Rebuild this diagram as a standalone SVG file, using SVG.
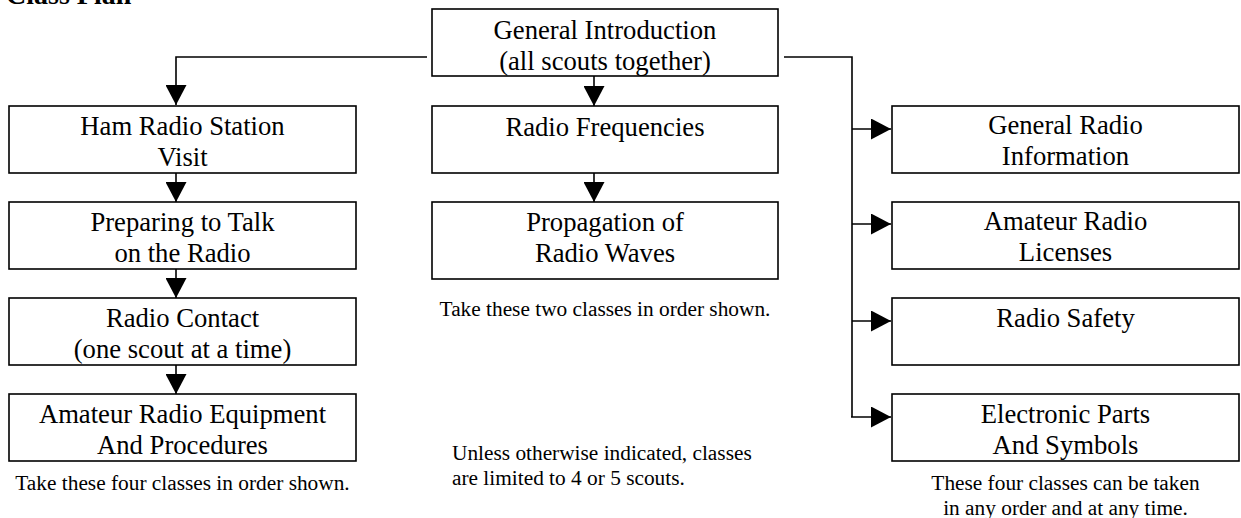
<svg xmlns="http://www.w3.org/2000/svg" width="1241" height="518" viewBox="0 0 1241 518">
<style>
  .box { fill: #ffffff; stroke: #000000; stroke-width: 1.6; }
  .lbl { font-family: "Liberation Serif", "Times New Roman", serif; font-size: 26.67px; fill: #000000; text-anchor: middle; }
  .note { font-family: "Liberation Serif", "Times New Roman", serif; font-size: 21.33px; fill: #000000; }
  .title { font-family: "Liberation Serif", "Times New Roman", serif; font-size: 28px; font-weight: bold; fill: #000000; }
  .conn { fill: none; stroke: #000000; stroke-width: 1.6; }
</style>
<defs>
  <marker id="arrow" markerUnits="userSpaceOnUse" markerWidth="20" markerHeight="21" viewBox="0 0 20 21" refX="20" refY="10.5" orient="auto">
    <path d="M0,0 L20,10.5 L0,21 z" fill="#000000"/>
  </marker>
</defs>
<rect width="1241" height="518" fill="#ffffff"/>
<text class="title" x="6" y="4">Class Plan</text>

<g id="connectors">
  <path class="conn" d="M427,57 H176 V105" marker-end="url(#arrow)"/>
  <path class="conn" d="M594,76 V106" marker-end="url(#arrow)"/>
  <path class="conn" d="M594,173 V202" marker-end="url(#arrow)"/>
  <path class="conn" d="M176,173 V202" marker-end="url(#arrow)"/>
  <path class="conn" d="M176,269 V298" marker-end="url(#arrow)"/>
  <path class="conn" d="M176,365 V394" marker-end="url(#arrow)"/>
  <path class="conn" d="M784,57 H852 V417"/>
  <path class="conn" d="M852,129 H891" marker-end="url(#arrow)"/>
  <path class="conn" d="M852,224 H891" marker-end="url(#arrow)"/>
  <path class="conn" d="M852,321 H891" marker-end="url(#arrow)"/>
  <path class="conn" d="M851,417 H891" marker-end="url(#arrow)"/>
</g>

<g id="general-intro">
  <rect class="box" x="432" y="9" width="346" height="67"/>
  <text class="lbl" x="605" y="39">General Introduction</text>
  <text class="lbl" x="605" y="69.7">(all scouts together)</text>
</g>

<g id="ham-radio-visit">
  <rect class="box" x="9" y="106" width="347" height="67"/>
  <text class="lbl" x="182.5" y="135">Ham Radio Station</text>
  <text class="lbl" x="182.5" y="165.7">Visit</text>
</g>
<g id="preparing-to-talk">
  <rect class="box" x="9" y="202" width="347" height="67"/>
  <text class="lbl" x="182.5" y="231">Preparing to Talk</text>
  <text class="lbl" x="182.5" y="261.7">on the Radio</text>
</g>
<g id="radio-contact">
  <rect class="box" x="9" y="298" width="347" height="67"/>
  <text class="lbl" x="182.5" y="327">Radio Contact</text>
  <text class="lbl" x="182.5" y="357.7">(one scout at a time)</text>
</g>
<g id="equipment-procedures">
  <rect class="box" x="9" y="394" width="347" height="67"/>
  <text class="lbl" x="182.5" y="423">Amateur Radio Equipment</text>
  <text class="lbl" x="182.5" y="453.7">And Procedures</text>
</g>

<g id="radio-frequencies">
  <rect class="box" x="432" y="106" width="346" height="67"/>
  <text class="lbl" x="605" y="136">Radio Frequencies</text>
</g>
<g id="propagation">
  <rect class="box" x="432" y="202" width="346" height="77"/>
  <text class="lbl" x="605" y="231">Propagation of</text>
  <text class="lbl" x="605" y="261.7">Radio Waves</text>
</g>

<g id="general-radio-info">
  <rect class="box" x="892" y="106" width="347" height="67"/>
  <text class="lbl" x="1065.5" y="134">General Radio</text>
  <text class="lbl" x="1065.5" y="164.7">Information</text>
</g>
<g id="amateur-licenses">
  <rect class="box" x="892" y="202" width="347" height="67"/>
  <text class="lbl" x="1065.5" y="230">Amateur Radio</text>
  <text class="lbl" x="1065.5" y="260.7">Licenses</text>
</g>
<g id="radio-safety">
  <rect class="box" x="892" y="298" width="347" height="67"/>
  <text class="lbl" x="1065.5" y="327">Radio Safety</text>
</g>
<g id="electronic-parts">
  <rect class="box" x="892" y="394" width="347" height="67"/>
  <text class="lbl" x="1065.5" y="423">Electronic Parts</text>
  <text class="lbl" x="1065.5" y="453.7">And Symbols</text>
</g>

<g id="notes">
  <text class="note" x="182.5" y="490" text-anchor="middle">Take these four classes in order shown.</text>
  <text class="note" x="605" y="316" text-anchor="middle">Take these two classes in order shown.</text>
  <text class="note" x="452" y="460">Unless otherwise indicated, classes</text>
  <text class="note" x="452" y="484.5">are limited to 4 or 5 scouts.</text>
  <text class="note" x="1065.5" y="490" text-anchor="middle">These four classes can be taken</text>
  <text class="note" x="1065.5" y="514.5" text-anchor="middle">in any order and at any time.</text>
</g>
</svg>
